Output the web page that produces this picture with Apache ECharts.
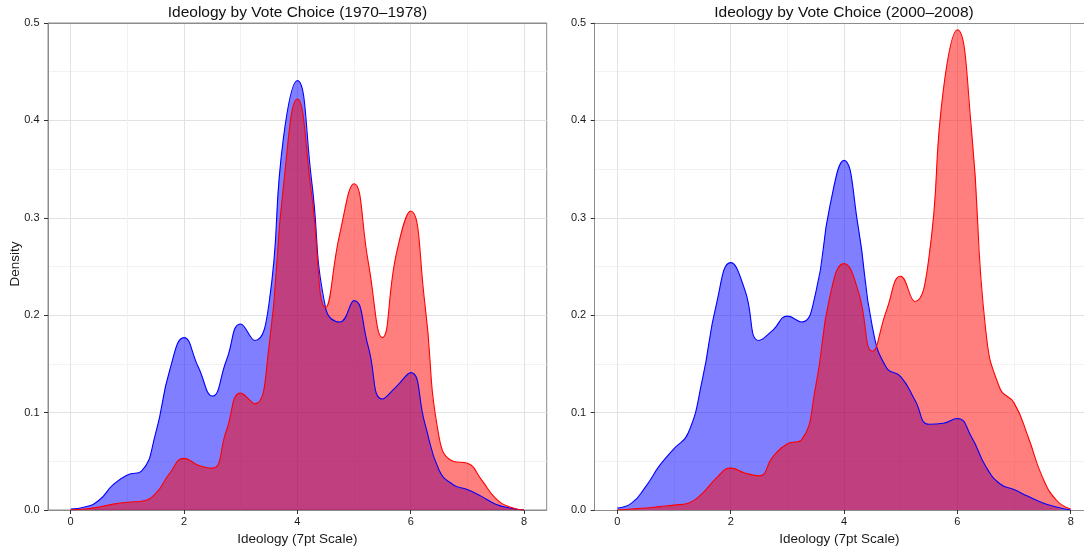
<!DOCTYPE html>
<html><head><meta charset="utf-8">
<script src="https://cdn.jsdelivr.net/npm/echarts@6/dist/echarts.min.js"></script>
<style>html,body{margin:0;padding:0;background:#fff}#c{width:1084px;height:548px}</style>
</head><body><div id="c"></div><script>
// Ideology grid (7pt scale), step 0.25
const ideology = [0,0.25,0.5,0.75,1,1.25,1.5,1.75,2,2.25,2.5,2.75,3,3.25,3.5,3.75,4,4.25,4.5,4.75,5,5.25,5.5,5.75,6,6.25,6.5,6.75,7,7.25,7.5,7.75,8];
// 1970-1978 densities
const dem7078 = [0.001,0.003,0.010,0.026,0.036,0.040,0.079,0.144,0.177,0.147,0.117,0.154,0.191,0.174,0.212,0.380,0.441,0.339,0.207,0.193,0.215,0.168,0.114,0.127,0.141,0.089,0.041,0.026,0.021,0.014,0.006,0.002,0.000];
const rep7078 = [0.000,0.001,0.003,0.006,0.008,0.009,0.017,0.038,0.053,0.046,0.043,0.082,0.120,0.109,0.168,0.330,0.422,0.325,0.208,0.284,0.335,0.255,0.177,0.264,0.307,0.212,0.075,0.050,0.048,0.031,0.012,0.003,0.000];
// 2000-2008 densities
const dem0008 = [0.002,0.007,0.024,0.046,0.063,0.079,0.134,0.212,0.254,0.226,0.174,0.185,0.199,0.193,0.223,0.312,0.359,0.291,0.188,0.146,0.137,0.113,0.088,0.089,0.094,0.075,0.045,0.027,0.021,0.014,0.0075,0.003,0.000];
const rep0008 = [0.000,0.001,0.002,0.0035,0.005,0.007,0.017,0.033,0.043,0.038,0.035,0.055,0.068,0.072,0.127,0.219,0.253,0.225,0.163,0.205,0.240,0.214,0.260,0.430,0.493,0.390,0.185,0.125,0.110,0.075,0.034,0.010,0.001];
const xTicks = [0,2,4,6,8];
const xMinorTicks = [1,3,5,7];
const panelTitles = ['Ideology by Vote Choice (1970\u20131978)','Ideology by Vote Choice (2000\u20132008)'];
const xName = 'Ideology (7pt Scale)';
const yName = 'Density';

const FONT = '"Liberation Sans", Arial, Helvetica, sans-serif';
const pairs = ys => ideology.map((x,i)=>[x, ys[i]]);
const xRange = [[-0.4, 8.4], [-0.4, 8.235]];
const gridOpt = [
  {show:true, left:48, top:23, width:498.7, bottom:38, borderColor:'#8c8c8c', borderWidth:1, backgroundColor:'transparent', containLabel:false, outerBoundsMode:'none'},
  {show:false, left:594.7, top:23, right:0, bottom:38, containLabel:false, outerBoundsMode:'none'}
];

function mainX(i){
  return {type:'value', gridIndex:i, min:xRange[i][0], max:xRange[i][1], position:'bottom',
    name:xName, nameLocation:'middle', nameGap:16.5,
    nameTextStyle:{fontFamily:FONT, fontSize:13.5, color:'#1a1a1a'},
    axisLine:{show:true, onZero:false, lineStyle:{color:'#8c8c8c', width:1}},
    axisTick:{show:true, length:4, customValues:xTicks, lineStyle:{color:'#333'}},
    axisLabel:{show:true, customValues:xTicks, margin:6.5, fontFamily:FONT, fontSize:11, color:'#1a1a1a'},
    splitLine:{show:true, lineStyle:{color:'#e2e2e2', width:1}}
  };
}
function minorX(i){
  return {type:'value', gridIndex:i, min:xRange[i][0], max:xRange[i][1], position:'top',
    axisLine:{show:true, onZero:false, lineStyle:{color:'#8c8c8c', width:1}}, axisLabel:{show:false},
    axisTick:{show:false, customValues:xMinorTicks},
    splitLine:{show:true, lineStyle:{color:'#f2f2f2', width:1}}
  };
}
function yAx(i){
  return {type:'value', gridIndex:i, min:0, max:0.5, interval:0.1,
    axisLine:{show:true, onZero:false, lineStyle:{color:'#8c8c8c', width:1}},
    axisTick:{show:true, length:4, lineStyle:{color:'#333'}},
    axisLabel:{margin:8.5, fontFamily:FONT, fontSize:11, color:'#1a1a1a', formatter:v=>v.toFixed(1)},
    splitLine:{show:true, lineStyle:{color:'#e2e2e2', width:1}},
    minorTick:{show:false, splitNumber:2},
    minorSplitLine:{show:true, lineStyle:{color:'#f2f2f2', width:1}}
  };
}
function dens(i, ys, color, fill){
  return {type:'line', xAxisIndex:i, yAxisIndex:i, data:pairs(ys), smooth:0.5,
    showSymbol:false, symbol:'none', silent:true,
    lineStyle:{color:color, width:1.1},
    areaStyle:{color:fill, opacity:1, origin:'start'}};
}
const chart = echarts.init(document.getElementById('c'), null, {renderer:'canvas'});
chart.setOption({
  animation:false,
  backgroundColor:'#ffffff',
  grid: gridOpt,
  xAxis: [mainX(0), mainX(1), minorX(0), minorX(1)],
  yAxis: [yAx(0), yAx(1)],
  series: [
    dens(0, dem7078, '#0000ff', 'rgba(0,0,255,0.5)'),
    dens(0, rep7078, '#ff0000', 'rgba(255,0,0,0.5)'),
    dens(1, dem0008, '#0000ff', 'rgba(0,0,255,0.5)'),
    dens(1, rep0008, '#ff0000', 'rgba(255,0,0,0.5)')
  ],
  graphic: [
    {type:'text', x:297.4, y:12.5, style:{text:panelTitles[0], font:'15.5px '+FONT, fill:'#111', align:'center', verticalAlign:'middle', textAlign:'center', textVerticalAlign:'middle'}},
    {type:'text', x:844, y:12.5, style:{text:panelTitles[1], font:'15.5px '+FONT, fill:'#111', align:'center', verticalAlign:'middle', textAlign:'center', textVerticalAlign:'middle'}},
    {type:'text', x:15.5, y:264, rotation:Math.PI/2, style:{text:yName, font:'13.5px '+FONT, fill:'#1a1a1a', align:'center', verticalAlign:'middle', textAlign:'center', textVerticalAlign:'middle'}}
  ]
});
</script></body></html>
